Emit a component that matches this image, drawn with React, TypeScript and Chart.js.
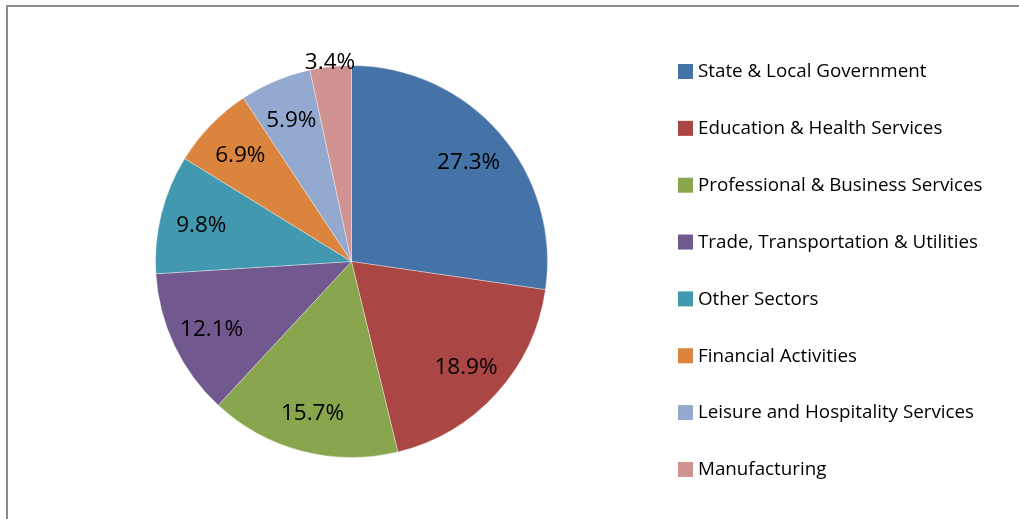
import React, { useEffect, useRef } from "react";
import { Chart, registerables } from "chart.js";

Chart.register(...registerables);

const categories = [
  "State & Local Government",
  "Education & Health Services",
  "Professional & Business Services",
  "Trade, Transportation & Utilities",
  "Other Sectors",
  "Financial Activities",
  "Leisure and Hospitality Services",
  "Manufacturing",
];
const shares = [27.3, 18.9, 15.7, 12.1, 9.8, 6.9, 5.9, 3.4];
const colors = ["#4572A7", "#AA4643", "#89A54E", "#71588F", "#4198AF", "#DB843D", "#93A9CF", "#D19392"];

const FONT = "'Open Sans', 'Noto Sans', sans-serif";

const framePlugin = {
  id: "frame",
  beforeDraw(chart: any) {
    const ctx = chart.ctx;
    ctx.save();
    ctx.fillStyle = "#ffffff";
    ctx.fillRect(0, 0, chart.width, chart.height);
    ctx.fillStyle = "#8c8c8c";
    ctx.fillRect(6, 5, chart.width - 6, 2);
    ctx.fillRect(6, 5, 2, chart.height - 5);
    ctx.restore();
  },
};

const labelPlugin = {
  id: "sliceLabels",
  afterDatasetsDraw(chart: any) {
    const ctx = chart.ctx;
    const meta = chart.getDatasetMeta(0);
    const values = chart.data.datasets[0].data as number[];
    ctx.save();
    ctx.font = `22.5px ${FONT}`;
    ctx.fillStyle = "#000";
    ctx.textAlign = "center";
    ctx.textBaseline = "middle";
    meta.data.forEach((arc: any, i: number) => {
      const p = arc.getProps(["x", "y", "startAngle", "endAngle", "outerRadius"], true);
      const mid = (p.startAngle + p.endAngle) / 2;
      const v = values[i];
      const rr = v < 4 ? p.outerRadius * 1.03 : p.outerRadius * 0.79;
      const x = p.x + Math.cos(mid) * rr;
      const y = p.y + Math.sin(mid) * rr;
      ctx.fillText(v.toFixed(1) + "%", x, y + 2);
    });
    ctx.restore();
  },
};

const legendPlugin = {
  id: "sideLegend",
  afterDraw(chart: any) {
    const ctx = chart.ctx;
    const labels = chart.data.labels as string[];
    const bg = chart.data.datasets[0].backgroundColor as string[];
    ctx.save();
    ctx.font = `18.8px ${FONT}`;
    ctx.textBaseline = "middle";
    ctx.textAlign = "left";
    labels.forEach((lab, i) => {
      const cy = 71 + i * 56.85;
      ctx.fillStyle = bg[i];
      ctx.fillRect(678, cy - 7, 15, 15);
      ctx.fillStyle = "#000";
      ctx.fillText(lab, 698, cy + 1);
    });
    ctx.restore();
  },
};

export default function App() {
  const ref = useRef<HTMLCanvasElement | null>(null);
  useEffect(() => {
    if (!ref.current) return;
    const chart = new Chart(ref.current, {
      type: "pie",
      data: {
        labels: categories,
        datasets: [
          {
            data: shares,
            backgroundColor: colors,
            borderColor: "rgba(255,255,255,0.35)",
            borderWidth: 1,
          },
        ],
      },
      options: {
        animation: false,
        responsive: false,
        layout: { padding: { left: 155, right: 471, top: 65, bottom: 61 } },
        plugins: {
          legend: { display: false },
          tooltip: { enabled: false },
          title: { display: false },
        },
      },
      plugins: [framePlugin, labelPlugin, legendPlugin],
    });
    return () => chart.destroy();
  }, []);
  return (
    <div style={{ position: "fixed", left: 0, top: 0, width: 1019, height: 519, background: "#fff" }}>
      <canvas ref={ref} width={1019} height={519} style={{ display: "block", width: 1019, height: 519 }} />
    </div>
  );
}
